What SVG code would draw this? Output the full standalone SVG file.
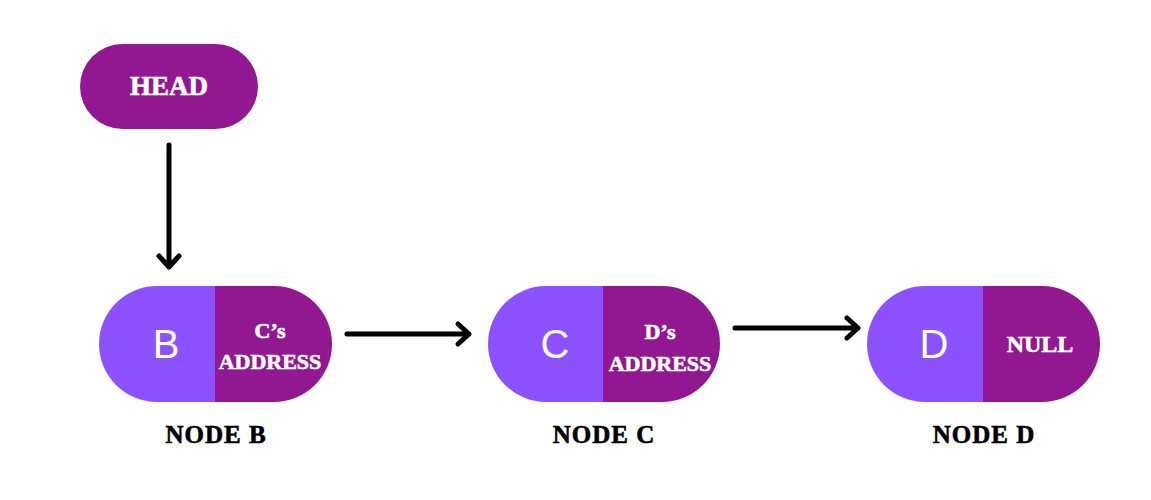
<svg xmlns="http://www.w3.org/2000/svg" width="1151" height="500" viewBox="0 0 1151 500">
<style>
.l{fill:#8C52FF}
.r{fill:#921891}
.big{font-family:"Liberation Sans",Arial,sans-serif;font-size:40px;fill:#fff;text-anchor:middle}
.w{font-family:"Liberation Serif","Times New Roman",serif;font-weight:bold;font-size:22px;fill:#fff;stroke:#fff;stroke-width:0.6;text-anchor:middle}
.cap{font-family:"Liberation Serif","Times New Roman",serif;font-weight:bold;font-size:25px;fill:#000;stroke:#000;stroke-width:0.6;text-anchor:middle;letter-spacing:1px}
.c{fill:none;stroke:#000;stroke-width:5;stroke-linecap:round;stroke-linejoin:round}
</style>
<rect width="1151" height="500" fill="#fff"/>
<g id="head">
<rect x="80" y="44" width="178" height="85" rx="42.5" class="r"/>
<text x="169" y="95" class="w" style="font-size:27px">HEAD</text>
</g>
<g id="nodeB">
<path d="M215 286 H157 A58 58 0 0 0 157 402 H215 Z" class="l"/>
<path d="M215 286 H274 A58 58 0 0 1 274 402 H215 Z" class="r"/>
<text x="166" y="358" class="big">B</text>
<text x="270" y="338" class="w">C’s</text>
<text x="270" y="369" class="w">ADDRESS</text>
<text x="216" y="443" class="cap">NODE B</text>
</g>
<g id="nodeC">
<path d="M603 286 H546 A58 58 0 0 0 546 402 H603 Z" class="l"/>
<path d="M603 286 H662 A58 58 0 0 1 662 402 H603 Z" class="r"/>
<text x="555" y="358" class="big">C</text>
<text x="660" y="339" class="w">D’s</text>
<text x="660" y="371" class="w">ADDRESS</text>
<text x="604" y="443" class="cap">NODE C</text>
</g>
<g id="nodeD">
<path d="M983 286 H925 A58 58 0 0 0 925 402 H983 Z" class="l"/>
<path d="M983 286 H1042 A58 58 0 0 1 1042 402 H983 Z" class="r"/>
<text x="934" y="358" class="big">D</text>
<text x="1040" y="352" class="w" style="font-size:24px">NULL</text>
<text x="984" y="443" class="cap">NODE D</text>
</g>
<g id="connectors">
<path d="M169 145 V267 M159 256 L169 267 L179 256" class="c"/>
<path d="M347 334 H469 M458 324 L469 334 L458 344" class="c"/>
<path d="M735 328 H858 M847 318 L858 328 L847 338" class="c"/>
</g>
</svg>
